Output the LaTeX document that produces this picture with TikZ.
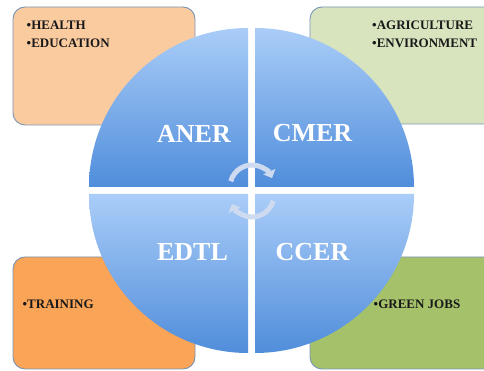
\documentclass[tikz,border=0pt]{standalone}
\usepackage{fontspec}
\setmainfont{Liberation Serif}
\usetikzlibrary{arrows.meta}
\definecolor{bluetop}{RGB}{170,205,248}
\definecolor{bluebot}{RGB}{80,141,219}
\definecolor{peach}{RGB}{251,203,160}
\definecolor{palegreen}{RGB}{216,228,190}
\definecolor{orangebox}{RGB}{249,164,86}
\definecolor{greenbox}{RGB}{165,194,107}
\definecolor{boxline}{RGB}{122,148,182}
\definecolor{arrowcol}{RGB}{205,218,240}
\tikzset{
  infobox/.style={draw=boxline, line width=0.9pt, rounded corners=12pt},
  quadrant/.style={top color=bluetop, bottom color=bluebot, draw=none},
  biglabel/.style={text=white, font=\bfseries\fontsize{26}{26}\selectfont, inner sep=0pt},
  boxtext/.style={text=black!90, font=\bfseries\fontsize{13}{18}\selectfont, align=left, inner sep=0pt, anchor=north west},
  cyclearrow/.style={draw=arrowcol, line width=5pt, -{Triangle[length=7pt,width=13pt]}}
}
\begin{document}
\begin{tikzpicture}[x=1pt,y=1pt]
\useasboundingbox (0,0) rectangle (484,371);
\clip (0,0) rectangle (484,371);
\fill[white] (0,0) rectangle (484,371);
% boxes
\draw[infobox, fill=peach] (13,246) rectangle (195,364);
\draw[infobox, fill=palegreen] (310,247) rectangle (500,364);
\draw[infobox, fill=orangebox] (13,2) rectangle (195,114);
\draw[infobox, fill=greenbox] (310,2) rectangle (500,114);
\node[boxtext] (health) at (26.5,350.5) {•HEALTH\\•EDUCATION};
\node[boxtext] (agri) at (372,350.5) {•AGRICULTURE\\•ENVIRONMENT};
\node[boxtext] (training) at (22.5,71.5) {•TRAINING};
\node[boxtext] (green) at (373.5,71.5) {•GREEN JOBS};
% quadrants
\path[quadrant] (248,184) -- ++(-159,0) arc[start angle=180, end angle=90, radius=159] -- cycle;
\path[quadrant] (255,184) -- ++(159,0) arc[start angle=0, end angle=90, radius=159] -- cycle;
\path[quadrant] (248,177) -- ++(-159,0) arc[start angle=180, end angle=270, radius=159] -- cycle;
\path[quadrant] (255,177) -- ++(159,0) arc[start angle=0, end angle=-90, radius=159] -- cycle;
\node[biglabel] (aner) at (194,237.5) {ANER};
\node[biglabel] (cmer) at (312.5,238) {CMER};
\node[biglabel] (edtl) at (192.5,118.5) {EDTL};
\node[biglabel] (ccer) at (312.5,118.5) {CCER};
% cycle arrows
\coordinate (uc) at (252,184);
\coordinate (lc) at (252,176);
\draw[cyclearrow] ([shift={(165:22)}]uc) arc[start angle=165, end angle=24, radius=22];
\draw[cyclearrow] ([shift={(-15:22)}]lc) arc[start angle=-15, end angle=-156, radius=22];
\end{tikzpicture}
\end{document}
